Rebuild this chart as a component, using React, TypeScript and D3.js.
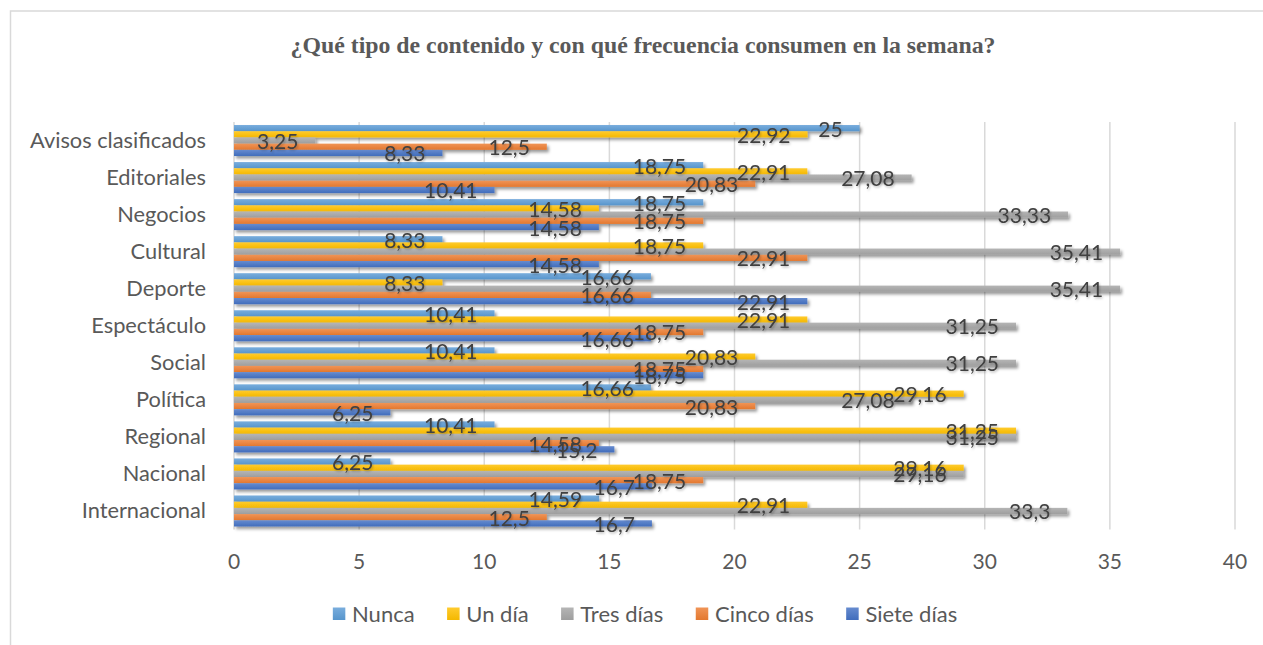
import React from 'react';
import * as d3 from 'd3';

const categories = [
  'Avisos clasificados', 'Editoriales', 'Negocios', 'Cultural', 'Deporte',
  'Espectáculo', 'Social', 'Política', 'Regional', 'Nacional', 'Internacional',
];
const seriesNames = ['Nunca', 'Un día', 'Tres días', 'Cinco días', 'Siete días'];
const nunca = [25, 18.75, 18.75, 8.33, 16.66, 10.41, 10.41, 16.66, 10.41, 6.25, 14.59];
const unDia = [22.92, 22.91, 14.58, 18.75, 8.33, 22.91, 20.83, 29.16, 31.25, 29.16, 22.91];
const tresDias = [3.25, 27.08, 33.33, 35.41, 35.41, 31.25, 31.25, 27.08, 31.25, 29.16, 33.3];
const cincoDias = [12.5, 20.83, 18.75, 22.91, 16.66, 18.75, 18.75, 20.83, 14.58, 18.75, 12.5];
const sieteDias = [8.33, 10.41, 14.58, 14.58, 22.91, 16.66, 18.75, 6.25, 15.2, 16.7, 16.7];
const xTicks = [0, 5, 10, 15, 20, 25, 30, 35, 40];
const colors = ['#5B9BD5', '#FFC000', '#A5A5A5', '#ED7D31', '#4472C4'];
const title = '¿Qué tipo de contenido y con qué frecuencia consumen en la semana?';

const SANS = 'Lato, "Open Sans", sans-serif';

function measure(text: string, font: string): number {
  const c = document.createElement('canvas').getContext('2d');
  if (!c) return text.length * 10;
  c.font = font;
  return c.measureText(text).width;
}

const fmt = (v: number) => String(v).replace('.', ',');

export default function App() {
  const W = 1263;
  const H = 645;
  const series = [nunca, unDia, tresDias, cincoDias, sieteDias];

  const x = d3.scaleLinear().domain([0, 40]).range([234, 1235]);
  const y = d3
    .scaleBand<string>()
    .domain(categories)
    .range([122, 529.5])
    .paddingInner(0.163)
    .paddingOuter(0.0815);
  const ys = d3.scaleBand<string>().domain(seriesNames).range([0, y.bandwidth()]);

  const legendFontSize = 22;
  const labelFont = `${legendFontSize}px ${SANS}`;
  const legendWidths = seriesNames.map((s) => measure(s, labelFont));
  const swatch = 12.5;
  const swGap = 6.7;
  const itemGap = 32.5;
  const totalLegend =
    legendWidths.reduce((a, b) => a + b + swatch + swGap, 0) + itemGap * (seriesNames.length - 1);
  let lx = 645 - totalLegend / 2;
  const legendPos = legendWidths.map((w) => {
    const p = lx;
    lx += swatch + swGap + w + itemGap;
    return p;
  });

  return (
    <svg
      width={W}
      height={H}
      style={{ position: 'absolute', left: 0, top: 0, background: '#fff' }}
    >
      <defs>
        {colors.map((c, i) => (
          <linearGradient key={i} id={`g${i}`} x1="0" y1="0" x2="0" y2="1">
            <stop offset="0" stopColor={d3.interpolateRgb(c, '#ffffff')(0.18)} />
            <stop offset="1" stopColor={d3.color(c)!.darker(0.12).formatHex()} />
          </linearGradient>
        ))}
        <filter id="barShadow" x="-5%" y="-50%" width="110%" height="250%">
          <feDropShadow dx="2" dy="2.5" stdDeviation="1.8" floodColor="#000" floodOpacity="0.4" />
        </filter>
        <filter id="txtShadow" x="-10%" y="-20%" width="130%" height="150%">
          <feDropShadow dx="1" dy="1.5" stdDeviation="1" floodColor="#000" floodOpacity="0.25" />
        </filter>
      </defs>

      <rect x={10.5} y={11} width={1270} height={660} fill="#fff" stroke="#d9d9d9" strokeWidth={1.5} />

      <text
        x={643}
        y={53}
        textAnchor="middle"
        fontFamily='"Liberation Serif", "Times New Roman", serif'
        fontWeight="bold"
        fontSize={23.8}
        fill="#595959"
      >
        {title}
      </text>

      {/* gridlines */}
      {xTicks.map((t) => (
        <line
          key={t}
          x1={x(t)}
          x2={x(t)}
          y1={122}
          y2={529.5}
          stroke="#d9d9d9"
          strokeWidth={1.5}
        />
      ))}

      {/* bars */}
      {categories.map((cat, ci) => (
        <g key={cat}>
          {series.map((vals, si) => (
            <rect
              key={si}
              x={x(0)}
              y={(y(cat) ?? 0) + (ys(seriesNames[si]) ?? 0)}
              width={x(vals[ci]) - x(0)}
              height={ys.bandwidth()}
              fill={`url(#g${si})`}
              filter="url(#barShadow)"
            />
          ))}
        </g>
      ))}

      {/* data labels */}
      <g filter="url(#txtShadow)">
        {categories.map((cat, ci) =>
          series.map((vals, si) => (
            <text
              key={`${ci}-${si}`}
              x={x(vals[ci]) - 17}
              y={(y(cat) ?? 0) + (ys(seriesNames[si]) ?? 0) + ys.bandwidth() / 2 + 8.5}
              textAnchor="end"
              fontFamily={SANS}
              fontSize={21}
              fill="#404040"
            >
              {fmt(vals[ci])}
            </text>
          ))
        )}
      </g>

      {/* category labels */}
      {categories.map((cat) => (
        <text
          key={cat}
          x={206}
          y={(y(cat) ?? 0) + y.bandwidth() / 2 + 7.5}
          textAnchor="end"
          fontFamily={SANS}
          fontSize={21.8}
          fill="#595959"
        >
          {cat}
        </text>
      ))}

      {/* x tick labels */}
      {xTicks.map((t) => (
        <text
          key={t}
          x={x(t)}
          y={568.5}
          textAnchor="middle"
          fontFamily={SANS}
          fontSize={21}
          fill="#595959"
        >
          {t}
        </text>
      ))}

      {/* legend */}
      {seriesNames.map((s, i) => (
        <g key={s}>
          <rect
            x={legendPos[i]}
            y={607.5}
            width={swatch}
            height={swatch}
            fill={`url(#g${i})`}
          />
          <text
            x={legendPos[i] + swatch + swGap}
            y={621.5}
            fontFamily={SANS}
            fontSize={legendFontSize}
            fill="#595959"
          >
            {s}
          </text>
        </g>
      ))}
    </svg>
  );
}
